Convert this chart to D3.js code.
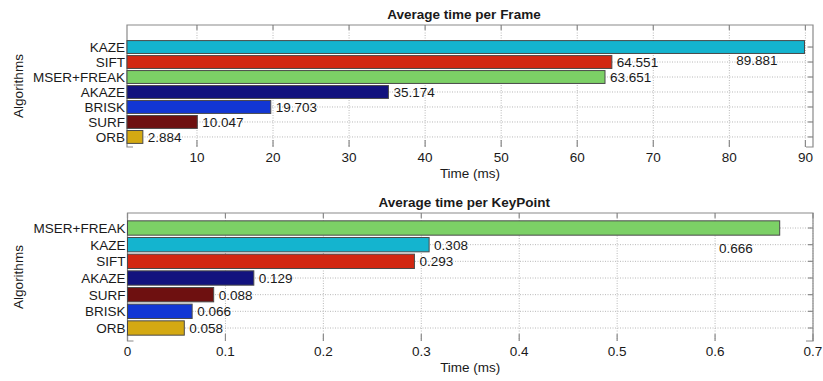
<!DOCTYPE html>
<html>
<head>
<meta charset="utf-8">
<script src="https://cdn.jsdelivr.net/npm/d3@7"></script>
<style>
  html, body { margin: 0; padding: 0; background: #ffffff; }
  svg { display: block; }
  text { font-family: "Liberation Sans", Arial, Helvetica, sans-serif; fill: #1a1a1a; }
</style>
</head>
<body>
<svg id="chart" width="823" height="381"></svg>
<script>
// Average time per frame (ms), listed top to bottom
const frameAlgorithms = ["KAZE", "SIFT", "MSER+FREAK", "AKAZE", "BRISK", "SURF", "ORB"];
const frameTimes = [89.881, 64.551, 63.651, 35.174, 19.703, 10.047, 2.884];
const frameTicks = [10, 20, 30, 40, 50, 60, 70, 80, 90];

// Average time per keypoint (ms), listed top to bottom
const keypointAlgorithms = ["MSER+FREAK", "KAZE", "SIFT", "AKAZE", "SURF", "BRISK", "ORB"];
const keypointTimes = [0.666, 0.308, 0.293, 0.129, 0.088, 0.066, 0.058];
const keypointTicks = [0, 0.1, 0.2, 0.3, 0.4, 0.5, 0.6, 0.7];

// One colour per algorithm, shared by both panels
const algorithmColors = {
  "KAZE": "#14b4cf",
  "SIFT": "#d22712",
  "MSER+FREAK": "#7cd066",
  "AKAZE": "#12127e",
  "BRISK": "#1236d4",
  "SURF": "#6e1010",
  "ORB": "#d4a912"
};

const svg = d3.select("#chart");
const FONT = 13.5;

function drawPanel(cfg) {
  const { names, values, ticks, title, xDomain, yDomain, left, right, top, bottom, drop, fmt } = cfg;
  const g = svg.append("g");
  const n = names.length;

  const x = d3.scaleLinear().domain(xDomain).range([left, right]);
  // position 1 is the bottom row, n the top row
  const y = d3.scaleLinear().domain(yDomain).range([bottom, top]);
  const rowPos = i => n - i;
  const step = Math.abs(y(1) - y(2));
  const barH = step * 0.86;

  // dotted grid
  g.append("g").selectAll("line").data(ticks).join("line")
    .attr("x1", d => x(d)).attr("x2", d => x(d))
    .attr("y1", top).attr("y2", bottom)
    .attr("stroke", "#b8b8b8").attr("stroke-width", 1)
    .attr("stroke-dasharray", "1,1.5");
  g.append("g").selectAll("line").data(names).join("line")
    .attr("x1", left).attr("x2", right)
    .attr("y1", (d, i) => y(rowPos(i))).attr("y2", (d, i) => y(rowPos(i)))
    .attr("stroke", "#b8b8b8").attr("stroke-width", 1)
    .attr("stroke-dasharray", "1,1.5");

  // frame: top, left, right edges plus short corner stubs at the bottom
  const axisCol = "#8a8a8a";
  g.append("path")
    .attr("d", `M${left + 6},${bottom} H${left} V${top} H${right} V${bottom} H${right - 7}`)
    .attr("fill", "none").attr("stroke", axisCol).attr("stroke-width", 1.2);

  // tick marks along top and bottom
  g.append("g").selectAll("line").data(ticks).join("line")
    .attr("x1", d => x(d)).attr("x2", d => x(d))
    .attr("y1", top).attr("y2", top + 5)
    .attr("stroke", axisCol).attr("stroke-width", 1.2);
  g.append("g").selectAll("line").data(ticks).join("line")
    .attr("x1", d => x(d)).attr("x2", d => x(d))
    .attr("y1", bottom).attr("y2", bottom - 7)
    .attr("stroke", axisCol).attr("stroke-width", 1.2);
  // row ticks on the right edge
  g.append("g").selectAll("line").data(names).join("line")
    .attr("x1", right).attr("x2", right - 5)
    .attr("y1", (d, i) => y(rowPos(i))).attr("y2", (d, i) => y(rowPos(i)))
    .attr("stroke", axisCol).attr("stroke-width", 1.2);

  // bars
  g.append("g").selectAll("rect").data(names).join("rect")
    .attr("x", x(xDomain[0]))
    .attr("y", (d, i) => y(rowPos(i)) - barH / 2)
    .attr("width", (d, i) => x(values[i]) - x(xDomain[0]))
    .attr("height", barH)
    .attr("fill", d => algorithmColors[d])
    .attr("stroke", "#4a4a4a").attr("stroke-width", 1);

  // value labels; a label that would run past the frame is tucked below its bar
  g.append("g").selectAll("text").data(values).join("text")
    .each(function (v, i) {
      const t = d3.select(this);
      const end = x(v);
      const overflow = end + 45 > right;
      t.attr("x", overflow ? end - 27 : end + 5)
        .attr("y", y(rowPos(i)) + (overflow ? drop : 0))
        .attr("dy", "0.36em")
        .attr("text-anchor", overflow ? "end" : "start")
        .attr("font-size", FONT)
        .text(fmt(v));
    });

  // category labels
  g.append("g").selectAll("text").data(names).join("text")
    .attr("x", left - 2)
    .attr("y", (d, i) => y(rowPos(i)))
    .attr("dy", "0.36em")
    .attr("text-anchor", "end")
    .attr("font-size", FONT)
    .text(d => d);

  // x tick labels
  g.append("g").selectAll("text").data(ticks).join("text")
    .attr("x", d => x(d))
    .attr("y", bottom + 15)
    .attr("text-anchor", "middle")
    .attr("font-size", FONT)
    .text(d => d3.format("~g")(d));

  // titles
  const cx = (left + right) / 2;
  g.append("text")
    .attr("x", cx - 6).attr("y", top - 6)
    .attr("text-anchor", "middle")
    .attr("font-size", 13.5).attr("font-weight", "bold")
    .text(title);
  g.append("text")
    .attr("x", cx).attr("y", bottom + 31)
    .attr("text-anchor", "middle")
    .attr("font-size", FONT)
    .text("Time (ms)");
  g.append("text")
    .attr("transform", `translate(23,${(top + bottom) / 2}) rotate(-90)`)
    .attr("text-anchor", "middle")
    .attr("font-size", FONT)
    .text("Algorithms");
}

drawPanel({
  names: frameAlgorithms, values: frameTimes, ticks: frameTicks,
  title: "Average time per Frame",
  xDomain: [0.8, 91], yDomain: [0.33, 8.47],
  left: 127, right: 813, top: 25, bottom: 147, drop: 13,
  fmt: d3.format(".3f")
});

drawPanel({
  names: keypointAlgorithms, values: keypointTimes, ticks: keypointTicks,
  title: "Average time per KeyPoint",
  xDomain: [0, 0.7], yDomain: [0.22, 7.9],
  left: 127.5, right: 813, top: 213, bottom: 341, drop: 20,
  fmt: d3.format(".3f")
});
</script>
</body>
</html>
